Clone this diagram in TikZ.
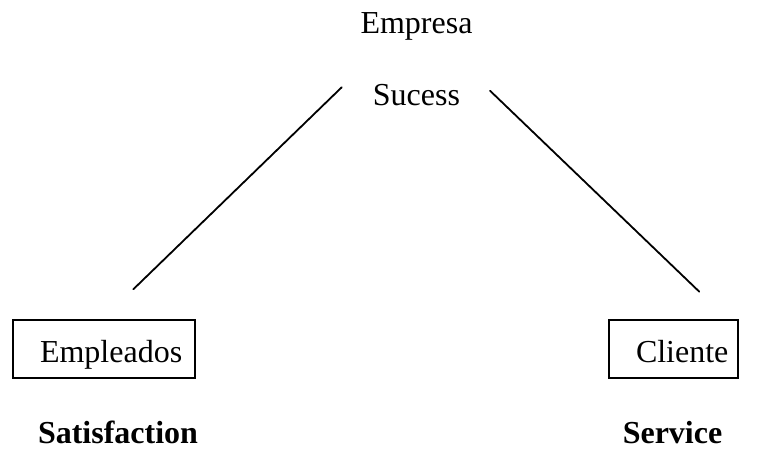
\documentclass[tikz,border=0pt]{standalone}
\usepackage{fontspec}
\setmainfont{Liberation Serif}
\begin{document}
\begin{tikzpicture}[x=1pt,y=-1pt,
  lbl/.style={font=\fontsize{32}{38}\selectfont, inner sep=0pt, anchor=base},
  bold/.style={lbl, font=\fontsize{32}{38}\selectfont\bfseries},
  boxnode/.style={draw, line width=1.6pt, font=\fontsize{32}{38}\selectfont,
    inner xsep=27pt, inner ysep=0pt, align=left, minimum height=58pt,
    text height=28pt, text depth=2pt},
  conn/.style={line width=1.8pt, line cap=round}]
\useasboundingbox (0,0) rectangle (780,450);
\node[lbl] (empresa) at (416.5,33.3) {Empresa};
\node[lbl] (sucess) at (416.5,105) {Sucess};
\node[boxnode, text width=128pt] (empleados) at (104,349) {Empleados};
\node[boxnode, text width=75pt] (cliente) at (673.5,349) {Cliente};
\node[bold] (satisf) at (118,443) {Satisfaction};
\node[bold] (service) at (672.5,443) {Service};
\coordinate (l1) at (341.7,87.3);
\coordinate (l2) at (133.3,289.3);
\coordinate (r1) at (490,90.7);
\coordinate (r2) at (699.3,291.7);
\draw[conn] (l1) -- (l2);
\draw[conn] (r1) -- (r2);
\end{tikzpicture}
\end{document}
